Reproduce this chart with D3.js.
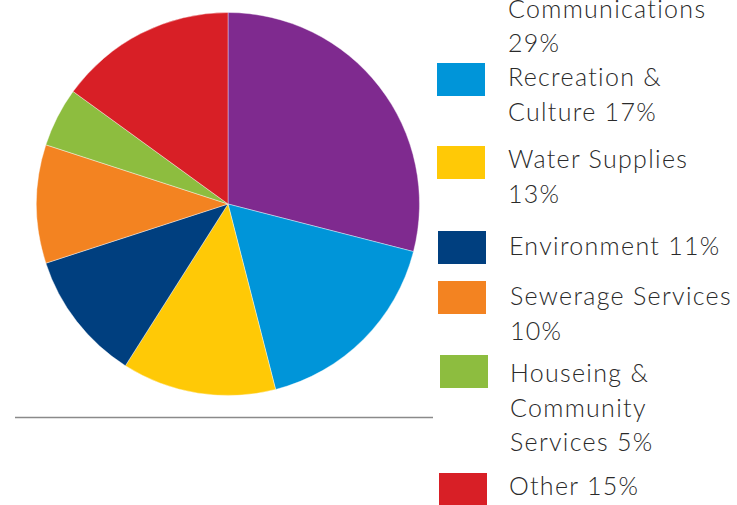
<!DOCTYPE html>
<html>
<head>
<meta charset="utf-8">
<script src="https://cdn.jsdelivr.net/npm/d3@7"></script>
<style>
html,body{margin:0;padding:0;background:#fff;overflow:hidden;}
svg{display:block;}
text{font-family:Lato, "Open Sans", sans-serif;font-weight:300;fill:#2a2a2a;letter-spacing:1.3px;}
</style>
</head>
<body>
<svg id="chart" width="737" height="505"></svg>
<script>
const categories = ["Transport & Communications", "Recreation & Culture", "Water Supplies", "Environment", "Sewerage Services", "Houseing & Community Services", "Other"];
const values = [29, 17, 13, 11, 10, 5, 15];
const colors = ["#7f2a8f", "#0095d9", "#ffc906", "#003f7f", "#f38321", "#8dbd3f", "#d81f26"];
const legendLines = [
  ["Transport &", "Communications", "29%"],
  ["Recreation &", "Culture 17%"],
  ["Water Supplies", "13%"],
  ["Environment 11%"],
  ["Sewerage Services", "10%"],
  ["Houseing &", "Community", "Services 5%"],
  ["Other 15%"]
];

const svg = d3.select("#chart");
const cx = 228, cy = 204, r = 191.5;

const pie = d3.pie().sort(null).value(d => d)(values);
const arc = d3.arc().innerRadius(0).outerRadius(r);

svg.append("g").attr("transform", `translate(${cx},${cy})`)
  .selectAll("path").data(pie).join("path")
  .attr("d", arc)
  .attr("fill", (d, i) => colors[i])
  .attr("stroke", "#fff").attr("stroke-width", 0.4);

// baseline rule
svg.append("line").attr("x1", 15).attr("x2", 433).attr("y1", 417.5).attr("y2", 417.5)
  .attr("stroke", "#8a8a8a").attr("stroke-width", 1.6);

// legend
const swatchY = [null, 63, 146, 231, 281, 355, 473];
const swatchX = [437, 437, 437, 438, 438, 440, 439];
const firstBaseline = [-17, 86, 168, 255, 305, 382, 495];
const textX = [508, 508, 508, 509, 510, 510, 509];
const lineH = 34.5;

const lg = svg.append("g");
categories.forEach((c, i) => {
  if (swatchY[i] !== null) {
    lg.append("rect").attr("x", swatchX[i]).attr("y", swatchY[i])
      .attr("width", 48).attr("height", 33).attr("fill", colors[i]);
  }
  const t = lg.append("text").attr("x", textX[i]).attr("y", firstBaseline[i])
    .attr("font-size", 25);
  legendLines[i].forEach((ln, j) => {
    t.append("tspan").attr("x", textX[i]).attr("dy", j === 0 ? 0 : lineH).text(ln);
  });
});
</script>
</body>
</html>
